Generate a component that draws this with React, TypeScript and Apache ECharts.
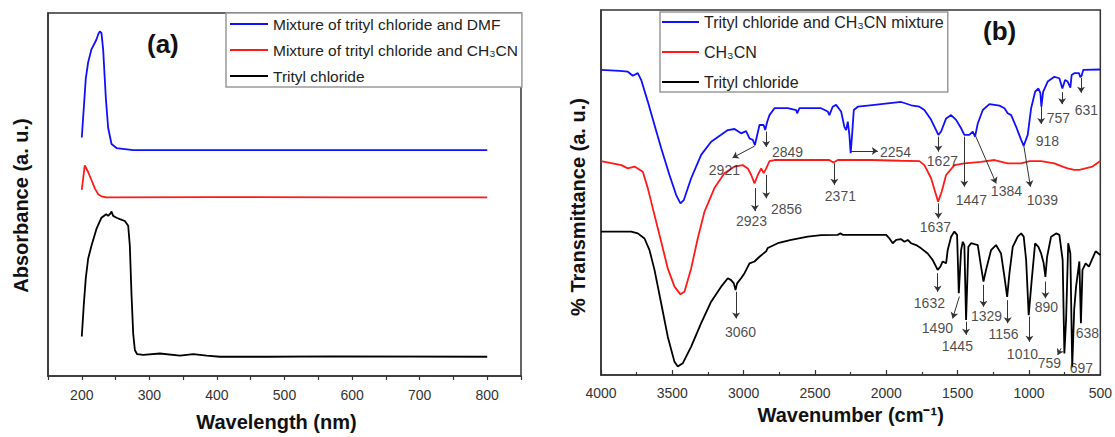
import React, { useEffect, useRef } from "react";
import * as echarts from "echarts";

const FONT = '"Liberation Sans", Arial, Helvetica, sans-serif';

// ---------- Panel (a): UV-Vis absorbance ----------
const uvTicks = [200, 300, 400, 500, 600, 700, 800];
const uvNames = [
  "Mixture of trityl chloride and DMF",
  "Mixture of trityl chloride and CH\u2083CN",
  "Trityl chloride",
];
const uvDMF: [number, number][] = [
  [200, 65.7], [205.9, 81.9], [209.4, 86.4], [214.3, 90.0], [219.3, 91.8], [221.7, 92.7],
  [224.2, 94.1], [226.7, 94.9], [229.1, 94.5], [231.6, 90.0], [235.6, 76.5], [239, 68.4],
  [244, 63.9], [251.4, 62.8], [276, 62.2], [400, 62.2], [600, 62.2], [800, 62.2],
];
const uvCH3CN: [number, number][] = [
  [200, 51.3], [204.4, 58.0], [209.4, 56.2], [214.3, 54.0], [219.3, 51.7], [224.2, 50.1],
  [229.1, 49.5], [236.6, 49.2], [400, 49.3], [600, 49.2], [800, 49.2],
];
const uvTrityl: [number, number][] = [
  [200, 10.9], [203, 19.7], [205.9, 26.9], [209.4, 32.3], [214.3, 35.9], [221.7, 40.5],
  [229.1, 43.6], [234.1, 44.3], [236, 44.6], [239, 44.1], [242.5, 44.8], [244, 45.3],
  [246.4, 44.1], [251.4, 43.6], [256.3, 43.2], [263.7, 42.7], [268.7, 41.4], [271.1, 35.9],
  [273.6, 22.4], [276.1, 11.6], [278.6, 7.1], [282, 6.0], [290.9, 5.8], [315.6, 6.2],
  [345.3, 5.6], [365, 6.0], [384.8, 5.6], [404.5, 5.3], [473.7, 5.3], [572.5, 5.4], [800, 5.3],
];

// ---------- Panel (b): FTIR transmittance ----------
const irNames = ["Trityl chloride and CH\u2083CN mixture", "CH\u2083CN", "Trityl chloride"];
const irMixture: [number, number][] = [
  [4000, 83.6], [3870, 83.3], [3812, 83.1], [3777, 82.0], [3742, 82.7], [3718, 80.8], [3672, 74.9],
  [3625, 68.5], [3578, 62.1], [3520, 54.8], [3473, 49.3], [3443, 47.0], [3420, 47.9], [3368, 53.9],
  [3298, 60.3], [3228, 63.9], [3158, 65.8], [3111, 67.1], [3064, 67.4], [3018, 66.2], [2983, 66.8],
  [2959, 64.8], [2936, 64.4], [2921, 63.0], [2889, 68.5], [2860, 68.5], [2849, 67.1], [2835, 69.4],
  [2819, 71.2], [2784, 73.1], [2691, 73.1], [2632, 72.6], [2625, 71.7], [2609, 73.1], [2457, 73.1],
  [2411, 72.2], [2399, 71.2], [2376, 73.5], [2352, 74.0], [2317, 72.2], [2294, 68.0], [2282, 67.1],
  [2270, 69.4], [2259, 65.8], [2250, 60.8], [2240, 65.8], [2228, 72.6], [2200, 73.5], [2130, 73.8],
  [1990, 74.4], [1896, 74.8], [1826, 73.9], [1768, 73.5], [1733, 72.6], [1686, 69.9], [1651, 67.1],
  [1635, 65.8], [1616, 66.7], [1581, 70.3], [1546, 71.2], [1511, 69.9], [1476, 67.6], [1453, 65.8],
  [1418, 65.8], [1394, 66.7], [1378, 65.3], [1359, 68.9], [1324, 72.6], [1277, 74.2], [1207, 73.8],
  [1172, 73.1], [1149, 71.7], [1125, 71.2], [1090, 68.0], [1055, 64.4], [1037, 62.8], [1009, 65.8],
  [985, 73.1], [957, 77.6], [934, 78.5], [920, 77.2], [913, 73.5], [901, 77.6], [869, 80.4],
  [822, 81.7], [787, 81.3], [766, 78.5], [747, 80.8], [729, 80.4], [710, 78.7], [701, 82.2],
  [682, 82.7], [650, 82.7], [640, 81.6], [631, 82.0], [619, 83.6], [500, 83.7],
];
const irCH3CN: [number, number][] = [
  [4000, 58.6], [3858, 57.5], [3812, 56.6], [3765, 57.1], [3707, 55.7], [3672, 51.2], [3625, 43.8],
  [3578, 36.5], [3532, 29.2], [3485, 24.2], [3443, 22.1], [3415, 22.8], [3368, 29.2], [3322, 37.4],
  [3275, 44.7], [3205, 51.2], [3135, 55.3], [3064, 57.1], [3006, 57.5], [2971, 56.6], [2947, 54.8],
  [2924, 52.5], [2901, 54.8], [2877, 56.6], [2859, 55.3], [2842, 56.6], [2819, 58.6], [2784, 58.9],
  [2600, 58.9], [2400, 58.9], [2371, 58.2], [2340, 58.9], [2100, 58.9], [1900, 58.7], [1768, 58.6],
  [1733, 57.5], [1686, 53.9], [1658, 50.2], [1637, 47.5], [1612, 50.2], [1581, 54.8], [1523, 57.5],
  [1453, 58.0], [1336, 58.4], [1242, 58.9], [1149, 58.0], [1055, 58.0], [995, 58.6], [915, 58.6],
  [822, 58.0], [760, 57.0], [729, 56.6], [682, 56.2], [647, 56.2], [555, 57.1], [500, 58.6],
];
const irTrityl: [number, number][] = [
  [4000, 39.3], [3788, 39.3], [3742, 38.8], [3695, 37.4], [3660, 34.2], [3625, 28.8], [3578, 19.6],
  [3532, 10.5], [3485, 3.6], [3462, 2.3], [3427, 3.2], [3368, 7.8], [3298, 14.2], [3228, 20.1],
  [3158, 24.2], [3111, 26.5], [3088, 26.0], [3069, 25.1], [3057, 23.3], [3046, 25.1], [3018, 26.5],
  [2994, 27.9], [2959, 30.6], [2924, 31.1], [2889, 32.4], [2842, 33.9], [2831, 34.8], [2761, 36.1],
  [2667, 37.0], [2551, 37.9], [2457, 38.3], [2341, 38.4], [2322, 38.8], [2306, 38.4], [2224, 38.4],
  [2001, 38.4], [1978, 37.4], [1955, 36.1], [1931, 37.0], [1896, 37.2], [1873, 36.5], [1850, 37.0],
  [1826, 36.1], [1791, 35.6], [1756, 34.7], [1710, 33.3], [1675, 31.5], [1640, 28.8], [1621, 29.7],
  [1605, 31.1], [1581, 30.6], [1570, 34.2], [1546, 37.9], [1523, 39.3], [1504, 38.4], [1492, 22.4],
  [1476, 34.2], [1464, 36.5], [1453, 35.6], [1441, 15.1], [1425, 35.1], [1406, 36.1], [1359, 35.6],
  [1336, 29.7], [1319, 25.6], [1301, 28.8], [1266, 34.2], [1231, 35.6], [1196, 33.3], [1172, 26.9],
  [1153, 21.4], [1137, 27.9], [1114, 35.1], [1079, 37.9], [1055, 38.8], [1037, 37.9], [1020, 31.5],
  [1002, 16.4], [981, 26.0], [957, 36.1], [934, 35.1], [915, 33.3], [897, 30.6], [885, 26.9],
  [873, 32.4], [845, 37.9], [810, 38.8], [787, 38.4], [764, 31.5], [752, 5.9], [740, 15.1],
  [725, 36.1], [710, 33.3], [697, 2.3], [683, 18.0], [670, 24.2], [647, 31.1], [636, 14.2],
  [625, 28.8], [603, 30.6], [580, 29.7], [533, 33.9], [500, 32.9],
];

// peak annotations: label, label position [wavenumber, value]
const irPeakLabels = [
  "2921", "2849", "2254", "1627", "1447", "1384", "1039", "918", "757", "631",
  "2923", "2856", "2371", "1637",
  "3060", "1632", "1490", "1445", "1329", "1156", "1010", "890", "759", "697", "638",
];
const irLabelPos: [number, number][] = [
  [3135, 56.2], [2693, 61.1], [1936, 61.1], [1607, 58.6], [1404, 47.9], [1158, 50.4], [906, 47.9],
  [871, 64.1], [794, 70.4], [598, 72.6],
  [2945, 42.2], [2700, 45.5], [2322, 49.0], [1656, 40.5],
  [3022, 11.8], [1698, 19.7], [1642, 12.9], [1502, 7.9], [1298, 16.2], [1179, 11.2], [1046, 5.8],
  [878, 18.6], [857, 3.3], [633, 1.9], [591, 11.5],
];
// arrows: [fromWn, fromVal, toWn, toVal]
const irArrows: [number, number, number, number][] = [
  [2924, 62.7, 3078, 59.5], [2842, 66.7, 2842, 62.5], [2247, 61.4, 2060, 61.4],
  [1635, 65.3, 1635, 61.2], [1453, 65.3, 1453, 51.6], [1378, 65.8, 1230, 52.5],
  [1037, 63.0, 990, 51.6], [915, 74.0, 915, 68.8], [768, 77.5, 768, 74.2], [635, 81.4, 635, 77.3],
  [2921, 51.2, 2921, 44.9], [2842, 54.8, 2842, 48.4], [2364, 58.0, 2364, 52.1], [1635, 47.0, 1635, 42.9],
  [3053, 22.8, 3053, 15.5], [1640, 27.9, 1640, 22.8], [1488, 21.5, 1535, 15.5], [1441, 14.6, 1441, 11.0],
  [1319, 24.7, 1319, 18.7], [1149, 20.5, 1149, 14.2], [997, 16.0, 997, 9.1], [885, 25.6, 885, 21.0],
  [775, 7.3, 799, 5.5],
];

const AXIS = "#333";

function buildOption(): any {
  const lineSeries = (name: string, data: [number, number][], color: string, idx: number) => ({
    type: "line",
    name,
    data,
    xAxisIndex: idx,
    yAxisIndex: idx,
    symbol: "none",
    showSymbol: false,
    smooth: false,
    lineStyle: { color, width: 1.8 },
    itemStyle: { color },
    z: 3,
  });
  const tickText = { fontSize: 14, color: "#333", fontFamily: FONT };
  const nameText = { fontSize: 20, fontWeight: "bold", color: "#111", fontFamily: FONT };
  return {
    animation: false,
    backgroundColor: "#fff",
    title: [
      { text: "(a)", left: 147, top: 31, padding: 0, textStyle: { fontSize: 26, fontWeight: "bold", color: "#111", fontFamily: FONT } },
      { text: "(b)", left: 983, top: 18, padding: 0, textStyle: { fontSize: 26, fontWeight: "bold", color: "#111", fontFamily: FONT } },
    ],
    legend: [
      {
        data: uvNames,
        orient: "vertical",
        left: 226,
        top: 13,
        icon: "rect",
        itemWidth: 38,
        itemHeight: 2,
        itemGap: 10,
        padding: [3, 4, 3, 4],
        borderColor: "#999",
        borderWidth: 1.5,
        backgroundColor: "#fff",
        selectedMode: false,
        textStyle: { fontSize: 15.5, color: "#222", fontFamily: FONT },
      },
      {
        data: irNames,
        orient: "vertical",
        left: 660,
        top: 12,
        icon: "rect",
        itemWidth: 37,
        itemHeight: 2,
        itemGap: 14,
        padding: [2, 4, 2, 2],
        borderColor: "#999",
        borderWidth: 1.5,
        backgroundColor: "#fff",
        selectedMode: false,
        textStyle: { fontSize: 16, color: "#222", fontFamily: FONT },
      },
    ],
    grid: [
      { left: 48, top: 13, width: 473, height: 370, show: true, borderColor: AXIS, borderWidth: 1.5 },
      { left: 601, top: 10, width: 500, height: 365, show: true, borderColor: AXIS, borderWidth: 1.5 },
    ],
    xAxis: [
      {
        gridIndex: 0,
        type: "value",
        min: 150,
        max: 850,
        interval: 50,
        axisLine: { show: true, onZero: false, lineStyle: { color: AXIS, width: 1.5 } },
        axisTick: { show: true, inside: false, length: 4, lineStyle: { color: AXIS, width: 1.2 } },
        axisLabel: {
          ...tickText,
          margin: 12,
          showMinLabel: true,
          showMaxLabel: true,
          formatter: (v: number) => (uvTicks.includes(v) ? String(v) : ""),
        },
        splitLine: { show: false },
        name: "Wavelength (nm)",
        nameLocation: "middle",
        nameGap: 36,
        nameTextStyle: { ...nameText, padding: [0, 16, 0, 0] },
      },
      {
        gridIndex: 1,
        type: "value",
        min: 500,
        max: 4000,
        interval: 500,
        inverse: true,
        axisLine: { show: true, onZero: false, lineStyle: { color: AXIS, width: 1.5 } },
        axisTick: { show: true, inside: true, length: 5, lineStyle: { color: AXIS, width: 1.2 } },
        minorTick: { show: true, splitNumber: 2, length: 3, lineStyle: { color: AXIS, width: 1.2 } },
        axisLabel: {
          ...tickText,
          margin: 11,
          showMinLabel: true,
          showMaxLabel: true,
          formatter: (v: number) => String(v),
        },
        splitLine: { show: false },
        name: "Wavenumber (cm\u207B\u00B9)",
        nameLocation: "middle",
        nameGap: 29,
        nameTextStyle: nameText,
      },
    ],
    yAxis: [
      {
        gridIndex: 0,
        type: "value",
        min: 0,
        max: 100,
        axisLine: { show: true, onZero: false, lineStyle: { color: AXIS, width: 1.5 } },
        axisTick: { show: false },
        axisLabel: { show: false },
        splitLine: { show: false },
        name: "Absorbance (a. u.)",
        nameLocation: "middle",
        nameGap: 17,
        nameTextStyle: { ...nameText, padding: [0, 22, 0, 0] },
      },
      {
        gridIndex: 1,
        type: "value",
        min: 0,
        max: 100,
        axisLine: { show: true, onZero: false, lineStyle: { color: AXIS, width: 1.5 } },
        axisTick: { show: false },
        axisLabel: { show: false },
        splitLine: { show: false },
        name: "% Transmittance (a. u.)",
        nameLocation: "middle",
        nameGap: 13,
        nameTextStyle: { ...nameText, padding: [0, 29, 0, 0] },
      },
    ],
    series: [
      lineSeries(uvNames[0], uvDMF, "#1010ff", 0),
      lineSeries(uvNames[1], uvCH3CN, "#ff1a1a", 0),
      lineSeries(uvNames[2], uvTrityl, "#000000", 0),
      lineSeries(irNames[0], irMixture, "#1010ff", 1),
      lineSeries(irNames[1], irCH3CN, "#ff1a1a", 1),
      lineSeries(irNames[2], irTrityl, "#000000", 1),
      {
        type: "scatter",
        name: "peaks",
        xAxisIndex: 1,
        yAxisIndex: 1,
        silent: true,
        symbol: "circle",
        symbolSize: 1,
        itemStyle: { color: "rgba(0,0,0,0)" },
        z: 5,
        data: irPeakLabels.map((label, i) => ({ name: label, value: irLabelPos[i] })),
        label: {
          show: true,
          position: "inside",
          formatter: "{b}",
          fontSize: 14,
          color: "#1a1a1a",
          fontFamily: FONT,
        },
        markLine: {
          silent: true,
          symbol: ["none", "arrow"],
          symbolSize: 6,
          label: { show: false },
          lineStyle: { color: "#333", width: 1, type: "solid" },
          emphasis: { disabled: true },
          data: irArrows.map((a) => [{ coord: [a[0], a[1]] }, { coord: [a[2], a[3]] }]),
        },
      },
    ],
  };
}

export default function App() {
  const ref = useRef<HTMLDivElement>(null);
  useEffect(() => {
    if (!ref.current) return;
    const chart = echarts.init(ref.current, null, { renderer: "svg" });
    chart.setOption(buildOption());
    return () => chart.dispose();
  }, []);
  return (
    <div
      ref={ref}
      style={{ position: "fixed", left: 0, top: 0, width: 1115, height: 437, background: "#fff" }}
    />
  );
}
